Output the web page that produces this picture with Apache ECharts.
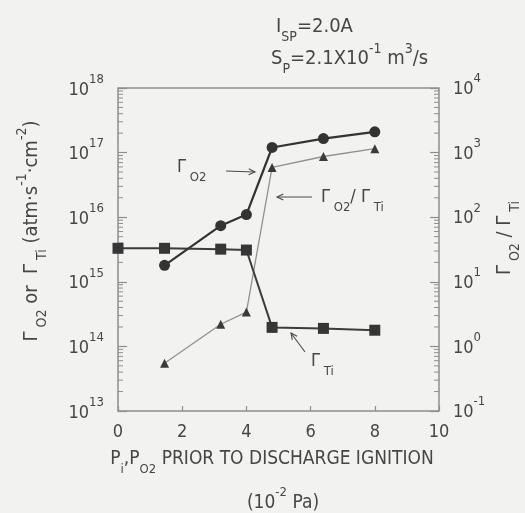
<!DOCTYPE html>
<html>
<head>
<meta charset="utf-8">
<script src="https://cdn.jsdelivr.net/npm/echarts@6/dist/echarts.min.js"></script>
<style>
  html, body { margin: 0; padding: 0; background: #f2f2f0; }
  #chart { width: 525px; height: 513px; }
</style>
</head>
<body>
<div id="chart"></div>
<script>
// Pressure before discharge ignition (10^-2 Pa)
const pressureO2 = [1.45, 3.2, 4.0, 4.8, 6.4, 8.0];
const pressureTi = [0, 1.45, 3.2, 4.0, 4.8, 6.4, 8.0];
// O2 flux (atm·s^-1·cm^-2)
const fluxO2 = [1.8e15, 7.4e15, 1.1e16, 1.2e17, 1.65e17, 2.1e17];
// Ti flux (atm·s^-1·cm^-2)
const fluxTi = [3.3e15, 3.3e15, 3.2e15, 3.1e15, 1.97e14, 1.9e14, 1.78e14];
// Flux ratio O2 / Ti
const fluxRatio = [0.55, 2.2, 3.4, 590, 870, 1150];
// Axis ranges
const xTicks = [0, 2, 4, 6, 8, 10];
const fluxRange = [1e13, 1e18];
const ratioRange = [1e-1, 1e4];

const FONT = '"DejaVu Sans Condensed", "DejaVu Sans", sans-serif';
const INK = '#464646';
const FRAME = '#8e8e8e';

function makeRich(size, small) {
  return {
    t:   { fontFamily: FONT, fontSize: size, color: INK, lineHeight: 34, verticalAlign: 'middle' },
    sub: { fontFamily: FONT, fontSize: small, color: INK, lineHeight: small, verticalAlign: 'bottom' },
    sup: { fontFamily: FONT, fontSize: small, color: INK, lineHeight: small, verticalAlign: 'top' }
  };
}
const rich = makeRich(18, 13);
const richTitle = makeRich(19, 13);
const richBig = makeRich(20, 14);

function powerLabel(v) {
  const e = Math.round(Math.log10(v));
  return '{t|10}{sup|' + e + '}';
}

const chart = echarts.init(document.getElementById('chart'), null, { renderer: 'canvas' });

const option = {
  backgroundColor: '#f2f2f0',
  animation: false,
  grid: {
    left: 118, right: 86, top: 88, bottom: 102,
    show: true, borderColor: FRAME, borderWidth: 1.5, backgroundColor: 'transparent'
  },
  xAxis: {
    type: 'value', min: xTicks[0], max: xTicks[xTicks.length - 1], interval: 2,
    axisLine: { show: false },
    axisTick: { show: true, inside: true, length: 5, lineStyle: { color: FRAME, width: 1.2 } },
    splitLine: { show: false },
    axisLabel: { margin: 12, fontFamily: FONT, fontSize: 18, color: INK }
  },
  yAxis: [
    {
      type: 'log', logBase: 10, min: fluxRange[0], max: fluxRange[1],
      axisLine: { show: false },
      axisTick: { show: true, inside: true, length: 9, lineStyle: { color: FRAME, width: 1.2 } },
      splitLine: { show: false },
      axisLabel: { margin: 14, formatter: powerLabel, rich: rich, padding: [4, 0, 0, 0] }
    },
    {
      type: 'log', logBase: 10, min: ratioRange[0], max: ratioRange[1], position: 'right',
      axisLine: { show: false },
      axisTick: { show: true, inside: true, length: 9, lineStyle: { color: FRAME, width: 1.2 } },
      splitLine: { show: false },
      axisLabel: { margin: 14, formatter: powerLabel, rich: rich, padding: [3, 0, 0, 0] }
    }
  ],
  series: [
    {
      name: 'Ti flux', type: 'line', yAxisIndex: 0,
      data: pressureTi.map((p, i) => [p, fluxTi[i]]),
      symbol: 'rect', symbolSize: 11, z: 3,
      lineStyle: { color: '#3c3c3c', width: 2 },
      itemStyle: { color: '#363636' }
    },
    {
      name: 'O2 flux', type: 'line', yAxisIndex: 0,
      data: pressureO2.map((p, i) => [p, fluxO2[i]]),
      symbol: 'circle', symbolSize: 11, z: 4,
      lineStyle: { color: '#333333', width: 2.2 },
      itemStyle: { color: '#333333' }
    },
    {
      name: 'ratio', type: 'line', yAxisIndex: 1,
      data: pressureO2.map((p, i) => [p, fluxRatio[i]]),
      symbol: 'triangle', symbolSize: 9, z: 2,
      lineStyle: { color: '#909090', width: 1.3 },
      itemStyle: { color: '#3a3a3a' }
    }
  ]
};

chart.setOption(option);

// Log minor ticks (2..9 within every decade) on both vertical axes
function minorTicks(axisIndex, range, fromX, dir) {
  const out = [];
  const lo = Math.round(Math.log10(range[0]));
  const hi = Math.round(Math.log10(range[1]));
  for (let d = lo; d < hi; d++) {
    for (let m = 2; m <= 9; m++) {
      const y = chart.convertToPixel({ yAxisIndex: axisIndex }, m * Math.pow(10, d));
      out.push({
        type: 'line', silent: true,
        shape: { x1: fromX, y1: y, x2: fromX + dir * 5, y2: y },
        style: { stroke: FRAME, lineWidth: 1 }
      });
    }
  }
  return out;
}

function arrow(x1, y1, x2, y2) {
  const a = Math.atan2(y2 - y1, x2 - x1);
  const L = 7, w = 0.45;
  return [
    { type: 'line', silent: true, shape: { x1, y1, x2, y2 }, style: { stroke: '#4a4a4a', lineWidth: 1.1 } },
    { type: 'polyline', silent: true,
      shape: { points: [
        [x2 - L * Math.cos(a - w), y2 - L * Math.sin(a - w)],
        [x2, y2],
        [x2 - L * Math.cos(a + w), y2 - L * Math.sin(a + w)]
      ] },
      style: { stroke: '#4a4a4a', lineWidth: 1.1, fill: null } }
  ];
}

function label(x, y, text, align, rotation, richSet) {
  return {
    type: 'text', silent: true, x: x, y: y, rotation: rotation || 0,
    style: {
      text: text, rich: richSet || rich, align: align || 'left', verticalAlign: 'middle',
      fontFamily: FONT, fontSize: 18, fill: INK
    }
  };
}

const xLeft = chart.convertToPixel({ xAxisIndex: 0 }, xTicks[0]);
const xRight = chart.convertToPixel({ xAxisIndex: 0 }, xTicks[xTicks.length - 1]);

const graphics = []
  .concat(minorTicks(0, fluxRange, xLeft, 1))
  .concat(minorTicks(1, ratioRange, xRight, -1))
  .concat(arrow(226, 171, 255, 172))
  .concat(arrow(312, 197, 277, 197))
  .concat(arrow(305, 352, 291, 333))
  .concat([
    label(276, 27, '{t|I}{sub|SP}{t|=2.0A}', 'left', 0, richBig),
    label(271, 59, '{t|S}{sub|P}{t|=2.1X10}{sup|-1}{t| m}{sup|3}{t|/s}', 'left', 0, richBig),
    label(177, 167, '{t|Γ}{sub| O2}'),
    label(321, 197, '{t|Γ}{sub| O2}{t|/ Γ}{sub| Ti}'),
    label(311, 361, '{t|Γ}{sub| Ti}'),
    label(272, 459, '{t|P}{sub|i}{t|,P}{sub|O2}{t| PRIOR TO DISCHARGE IGNITION}', 'center', 0, richTitle),
    label(283, 503, '{t|(10}{sup|-2}{t| Pa)}', 'center', 0, richTitle),
    label(32, 231, '{t|Γ}{sub| O2}{t| or  Γ}{sub| Ti}{t| (atm·s}{sup|-1}{t|·cm}{sup|-2}{t|)}', 'center', Math.PI / 2, richBig),
    label(505, 238, '{t|Γ}{sub| O2}{t| / Γ}{sub| Ti}', 'center', Math.PI / 2, richBig)
  ]);

chart.setOption({ graphic: { elements: graphics } });
</script>
</body>
</html>
